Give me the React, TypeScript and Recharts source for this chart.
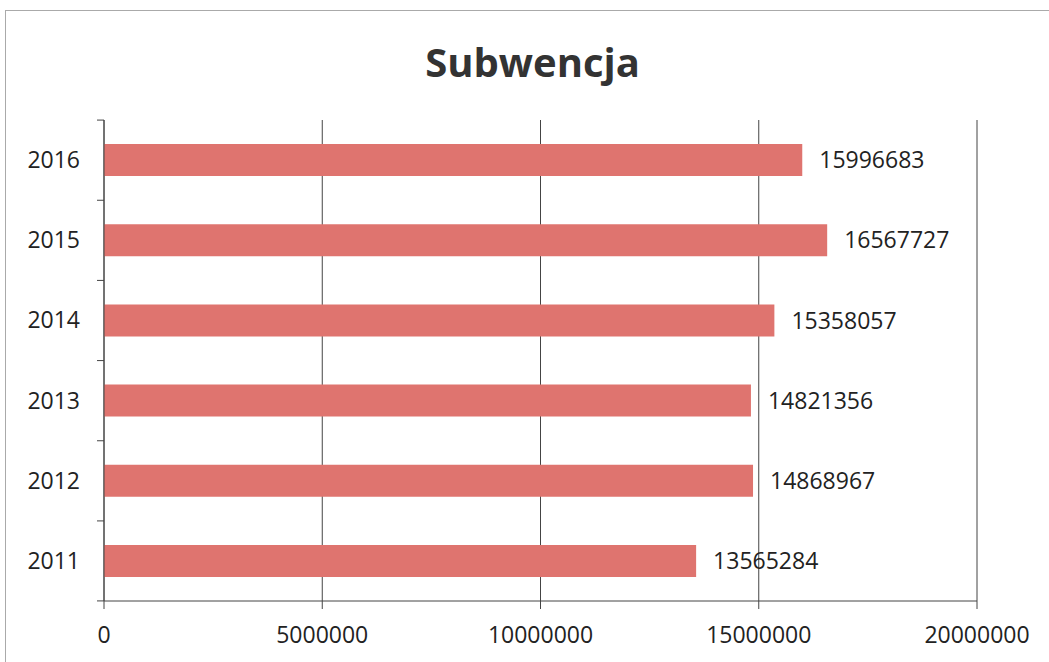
import { BarChart, Bar, XAxis, YAxis, CartesianGrid, LabelList } from "recharts";

// values, top row first
const YEARS = ["2016", "2015", "2014", "2013", "2012", "2011"];
const SUBWENCJA = [15996683, 16567727, 15358057, 14821356, 14868967, 13565284];
const X_TICKS = [0, 5000000, 10000000, 15000000, 20000000];

const FONT = "'Open Sans', sans-serif";
const INK = "#222";
const LINE = "#444";

export default function App() {
	const data = YEARS.map((year, i) => ({ year, value: SUBWENCJA[i] }));

	// excel-like category tick: label at the centre, tick marks on the band edges
	const renderYearTick = (props: any) => {
		const { x, y, payload, index } = props;
		const half = 40;
		const isLast = index === YEARS.length - 1;
		return (
			<g>
				<text x={x} y={y} dy="0.35em" textAnchor="end" fontSize={23} fill={INK} fontFamily={FONT}>
					{payload.value}
				</text>
				<line x1={x + 17} x2={x + 24} y1={y - half} y2={y - half} stroke={LINE} />
				{isLast && <line x1={x + 17} x2={x + 24} y1={y + half} y2={y + half} stroke={LINE} />}
			</g>
		);
	};

	return (
		<div style={{ position: "absolute", left: 0, top: 0, width: 1049, height: 662, overflow: "hidden", background: "#fff" }}>
			{/* scanned frame */}
			<div style={{ position: "absolute", left: 5, top: 10, width: 1100, height: 700, borderTop: "1px solid #aaa", borderLeft: "1px solid #aaa" }} />

			{/* Title */}
			<div
				style={{
					position: "absolute",
					left: 0,
					width: 1065,
					top: 35,
					textAlign: "center",
					fontFamily: FONT,
					fontWeight: 700,
					fontSize: 40,
					color: "#333",
					lineHeight: "54px",
				}}
			>
				Subwencja
			</div>

			<div style={{ position: "absolute", left: 0, top: 0 }}>
				<BarChart
					width={1049}
					height={662}
					data={data}
					layout="vertical"
					margin={{ top: 120, right: 72, left: 0, bottom: 0 }}
					barCategoryGap="30%"
				>
					<CartesianGrid horizontal={false} stroke={LINE} strokeDasharray="0" />
					<XAxis
						type="number"
						domain={[0, 20000000]}
						ticks={X_TICKS}
						interval={0}
						height={61}
						axisLine={{ stroke: LINE }}
						tickLine={{ stroke: LINE }}
						tickSize={8}
						tickMargin={18}
						tick={{ fill: INK, fontSize: 23, fontFamily: FONT }}
					/>
					<YAxis
						type="category"
						dataKey="year"
						width={104}
						axisLine={{ stroke: LINE }}
						tickLine={false}
						tickSize={0}
						tickMargin={24}
						tick={renderYearTick}
					/>
					<Bar dataKey="value" fill="#DF746F" isAnimationActive={false}>
						<LabelList
							dataKey="value"
							position="right"
							offset={17}
							fill={INK}
							fontSize={23}
							fontFamily={FONT}
						/>
					</Bar>
				</BarChart>
			</div>
		</div>
	);
}
